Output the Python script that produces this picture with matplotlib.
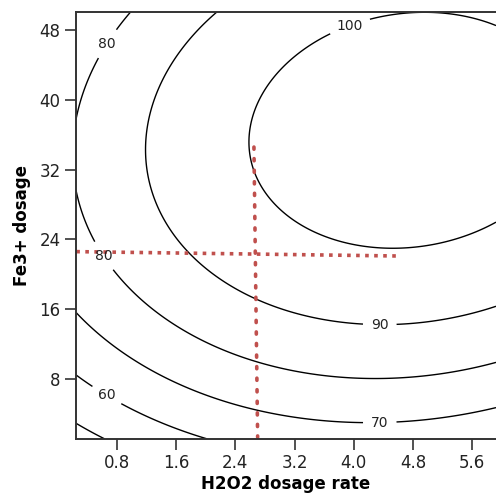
import numpy as np
import matplotlib.pyplot as plt

# Points (H2O2 dosage rate, Fe3+ dosage)
c100_x = [4.22, 3.70, 3.07, 2.73, 2.62, 2.82, 3.18, 3.77, 4.62, 5.44, 5.92, 4.80, 5.44, 5.92]
c100_y = [49.2, 47.6, 44.0, 40.0, 35.0, 28.9, 26.2, 23.9, 23.0, 24.1, 25.8, 50.0, 49.7, 48.6]
c90_x = [2.15, 1.83, 1.47, 1.25, 1.18, 1.29, 1.47, 1.72, 1.92, 2.19, 2.60, 3.05, 3.54, 4.08, 4.58, 5.03, 5.48, 5.92]
c90_y = [50.1, 47.6, 43.2, 39.2, 34.0, 28.9, 26.2, 23.0, 21.2, 19.3, 17.8, 15.9, 14.8, 14.4, 14.4, 14.6, 15.3, 16.5]
c80_x = [0.98, 0.75, 0.53, 0.42, 0.26, 0.26, 0.42, 0.53, 0.71, 0.84, 1.11, 1.43, 1.92, 2.28, 2.60, 3.05, 3.50, 3.95, 4.62, 5.30, 5.92]
c80_y = [50.1, 47.6, 44.6, 42.3, 38.4, 29.5, 26.2, 23.0, 20.9, 19.0, 17.0, 14.9, 12.4, 11.3, 10.3, 9.0, 8.4, 8.1, 8.1, 8.8, 9.8]
c70_x = [0.25, 0.57, 0.93, 1.34, 1.70, 2.15, 2.60, 3.05, 3.50, 4.08, 4.58, 5.03, 5.48, 5.92]
c70_y = [15.5, 13.6, 10.5, 8.4, 7.1, 5.6, 4.7, 3.85, 3.3, 3.0, 3.1, 3.5, 3.85, 4.6]
c60_x = [0.25, 0.48, 0.66, 0.84, 1.11, 1.56, 2.01]
c60_y = [8.4, 7.3, 6.1, 5.4, 4.0, 2.5, 1.2]
c50_x = [0.25, 0.61]
c50_y = [2.9, 1.06]

labelled_levels = [60, 70, 80, 90, 100]
plain_levels = [50]
label_pos = [(0.66, 6.1), (4.35, 2.9), (0.66, 46.5), (0.60, 22.0), (4.35, 14.2), (3.95, 48.4)]

# Red guide lines marking the chosen operating point
vline_x = [2.65, 2.70]
vline_y = [34.6, 1.3]
hline_x = [0.25, 4.58]
hline_y = [22.6, 22.1]

xlim = (0.246, 5.92)
ylim = (1.1, 50.1)
xticks = [0.8, 1.6, 2.4, 3.2, 4.0, 4.8, 5.6]
yticks = [8, 16, 24, 32, 40, 48]

# second-order response surface fitted through the traced contour points
px = np.concatenate([c100_x, c90_x, c80_x, c70_x, c60_x, c50_x])
py = np.concatenate([c100_y, c90_y, c80_y, c70_y, c60_y, c50_y])
pz = np.concatenate([[lv] * len(xs) for lv, xs in
                     zip([100, 90, 80, 70, 60, 50], [c100_x, c90_x, c80_x, c70_x, c60_x, c50_x])])


def design(x, y):
    return np.column_stack([np.ones_like(x), x, y, x * x, y * y, x * y])


coef, *_ = np.linalg.lstsq(design(px, py), pz, rcond=None)

gx = np.linspace(xlim[0], xlim[1], 300)
gy = np.linspace(ylim[0], ylim[1], 300)
GX, GY = np.meshgrid(gx, gy)
GZ = (design(GX.ravel(), GY.ravel()) @ coef).reshape(GX.shape)

fig = plt.figure(figsize=(4.96, 4.97), dpi=100)
ax = fig.add_axes([0.1532, 0.1167, 0.8468, 0.8592])

ax.contour(GX, GY, GZ, levels=plain_levels, colors='black', linewidths=1.0)
cs = ax.contour(GX, GY, GZ, levels=labelled_levels, colors='black', linewidths=1.0)
labels = ax.clabel(cs, manual=label_pos, inline=True, fmt='%d', fontsize=10, inline_spacing=8)
for t in labels:
    t.set_rotation(0)
    t.set_color('#222222')

red = '#c0504d'
ax.plot(vline_x, vline_y, color=red, linewidth=2.6, linestyle=(0, (0.6, 2.6)),
        dash_capstyle='round')
ax.plot(hline_x, hline_y, color=red, linewidth=2.6, linestyle=(0, (1, 1.5)))

ax.set_xlim(xlim)
ax.set_ylim(ylim)
ax.set_xticks(xticks)
ax.set_xticklabels([f'{t:.1f}' for t in xticks])
ax.set_yticks(yticks)
ax.tick_params(direction='out', length=8, width=1.2, colors='#333333',
               labelsize=12, labelcolor='#222222', pad=3)
for side in ['left', 'bottom', 'top']:
    ax.spines[side].set_color('#333333')
    ax.spines[side].set_linewidth(1.4)
ax.spines['right'].set_visible(False)

ax.set_xlabel('H2O2 dosage rate', fontsize=12, fontweight='bold', labelpad=2)
ax.set_ylabel('Fe3+ dosage', fontsize=12, fontweight='bold', labelpad=6)

fig.savefig('out.png', dpi=100)
